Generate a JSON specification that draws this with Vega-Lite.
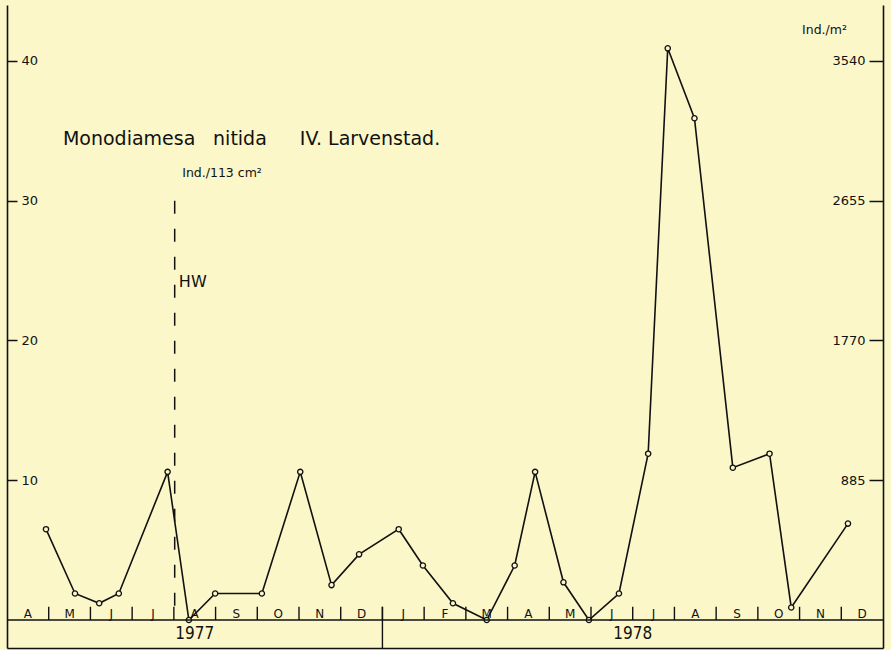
{
  "$schema": "https://vega.github.io/schema/vega-lite/v6.json",
  "width": 876,
  "height": 643,
  "autosize": {"type": "none"},
  "padding": {"left": 7, "top": 5, "right": 8, "bottom": 2},
  "background": "#fbf7c9",
  "config": {
    "view": {"stroke": null},
    "axisX": {"ticks": false, "labels": false, "grid": false, "domainColor": "#111111", "domainWidth": 1.6}
  },
  "datasets": {
    "counts": [
      {"month": 0.935, "ind": 6.5},
      {"month": 1.63, "ind": 1.9},
      {"month": 2.21, "ind": 1.2},
      {"month": 2.68, "ind": 1.9},
      {"month": 3.85, "ind": 10.6},
      {"month": 4.36, "ind": 0},
      {"month": 4.99, "ind": 1.9},
      {"month": 6.11, "ind": 1.9},
      {"month": 7.03, "ind": 10.6},
      {"month": 7.78, "ind": 2.5},
      {"month": 8.44, "ind": 4.7},
      {"month": 9.39, "ind": 6.5},
      {"month": 9.97, "ind": 3.9},
      {"month": 10.69, "ind": 1.2},
      {"month": 11.5, "ind": 0},
      {"month": 12.17, "ind": 3.9},
      {"month": 12.66, "ind": 10.6},
      {"month": 13.34, "ind": 2.7},
      {"month": 13.95, "ind": 0},
      {"month": 14.67, "ind": 1.9},
      {"month": 15.37, "ind": 11.9},
      {"month": 15.84, "ind": 40.9},
      {"month": 16.48, "ind": 35.9},
      {"month": 17.4, "ind": 10.9},
      {"month": 18.28, "ind": 11.9},
      {"month": 18.8, "ind": 0.9},
      {"month": 20.16, "ind": 6.9}
    ],
    "months": [
      {"m": "A", "start": 0}, {"m": "M", "start": 1}, {"m": "J", "start": 2}, {"m": "J", "start": 3},
      {"m": "A", "start": 4}, {"m": "S", "start": 5}, {"m": "O", "start": 6}, {"m": "N", "start": 7},
      {"m": "D", "start": 8}, {"m": "J", "start": 9}, {"m": "F", "start": 10}, {"m": "M", "start": 11},
      {"m": "A", "start": 12}, {"m": "M", "start": 13}, {"m": "J", "start": 14}, {"m": "J", "start": 15},
      {"m": "A", "start": 16}, {"m": "S", "start": 17}, {"m": "O", "start": 18}, {"m": "N", "start": 19},
      {"m": "D", "start": 20}
    ],
    "years": [
      {"year": "1977", "mid": 4.5},
      {"year": "1978", "mid": 15}
    ]
  },
  "layer": [
    {
      "data": {"name": "counts"},
      "mark": {"type": "line", "color": "#111111", "strokeWidth": 1.6},
      "encoding": {
        "x": {"field": "month", "type": "quantitative", "title": null, "scale": {"domain": [0, 21], "nice": false, "zero": false}},
        "y": {
          "field": "ind", "type": "quantitative",
          "scale": {"domain": [-2, 44], "nice": false, "zero": false},
          "axis": {
            "orient": "left", "title": null, "grid": false, "values": [10, 20, 30, 40],
            "domainColor": "#111111", "domainWidth": 1.6,
            "tickColor": "#111111", "tickWidth": 1.5, "tickSize": -10,
            "labelPadding": -4, "labelAlign": "left", "labelBaseline": "middle",
            "labelFont": "DejaVu Sans", "labelFontSize": 13, "labelColor": "#111111"
          }
        }
      }
    },
    {
      "data": {"name": "counts"},
      "mark": {"type": "point", "filled": true, "fill": "#fbf7c9", "stroke": "#111111", "strokeWidth": 1.3, "size": 28, "opacity": 1},
      "encoding": {
        "x": {"field": "month", "type": "quantitative", "title": null, "scale": {"domain": [0, 21], "nice": false, "zero": false}},
        "y": {
          "field": "ind", "type": "quantitative",
          "scale": {"domain": [-2, 44], "nice": false, "zero": false},
          "axis": {
            "orient": "right", "title": null, "grid": false, "values": [10, 20, 30, 40],
            "labelExpr": "datum.value * 88.5",
            "domainColor": "#111111", "domainWidth": 1.6,
            "tickColor": "#111111", "tickWidth": 1.5, "tickSize": -14,
            "labelPadding": -4, "labelAlign": "right", "labelBaseline": "middle",
            "labelFont": "DejaVu Sans", "labelFontSize": 13, "labelColor": "#111111"
          }
        }
      }
    },
    {
      "data": {"values": [{"from": 0, "to": 21, "level": 0}]},
      "mark": {"type": "rule", "color": "#111111", "strokeWidth": 1.5},
      "encoding": {
        "x": {"field": "from", "type": "quantitative", "title": null},
        "x2": {"field": "to"},
        "y": {"field": "level", "type": "quantitative", "axis": null, "scale": {"domain": [-2, 44], "nice": false, "zero": false}}
      }
    },
    {
      "data": {"name": "months"},
      "transform": [{"filter": "datum.start > 0"}],
      "mark": {"type": "rule", "color": "#111111", "strokeWidth": 1.4},
      "encoding": {
        "x": {"field": "start", "type": "quantitative", "title": null},
        "y": {"datum": 0, "type": "quantitative", "axis": null, "scale": {"domain": [-2, 44], "nice": false, "zero": false}},
        "y2": {"datum": 0.95}
      }
    },
    {
      "data": {"values": [{"boundary": 9}]},
      "mark": {"type": "rule", "color": "#111111", "strokeWidth": 1.4},
      "encoding": {
        "x": {"field": "boundary", "type": "quantitative", "title": null},
        "y": {"datum": -2, "type": "quantitative", "axis": null, "scale": {"domain": [-2, 44], "nice": false, "zero": false}},
        "y2": {"datum": 0.95}
      }
    },
    {
      "data": {"values": [{"hw": 4.02, "top": 30, "bottom": 0}]},
      "mark": {"type": "rule", "color": "#111111", "strokeWidth": 1.5, "strokeDash": [13, 15]},
      "encoding": {
        "x": {"field": "hw", "type": "quantitative", "title": null},
        "y": {"field": "top", "type": "quantitative", "axis": null, "scale": {"domain": [-2, 44], "nice": false, "zero": false}},
        "y2": {"field": "bottom"}
      }
    },
    {
      "data": {"name": "months"},
      "mark": {"type": "text", "font": "DejaVu Sans", "fontSize": 12, "color": "#111111", "align": "center", "baseline": "alphabetic", "dx": 20.85},
      "encoding": {
        "x": {"field": "start", "type": "quantitative", "title": null},
        "y": {"datum": 0.17, "type": "quantitative", "axis": null, "scale": {"domain": [-2, 44], "nice": false, "zero": false}},
        "text": {"field": "m"}
      }
    },
    {
      "data": {"name": "years"},
      "mark": {"type": "text", "font": "DejaVu Sans Condensed", "fontSize": 17, "color": "#111111", "align": "center", "baseline": "alphabetic"},
      "encoding": {
        "x": {"field": "mid", "type": "quantitative", "title": null},
        "y": {"datum": -1.33, "type": "quantitative", "axis": null, "scale": {"domain": [-2, 44], "nice": false, "zero": false}},
        "text": {"field": "year"}
      }
    },
    {
      "data": {"values": [
        {"label": "Monodiamesa", "x": 1.34},
        {"label": "nitida", "x": 4.94},
        {"label": "IV. Larvenstad.", "x": 7.02}
      ]},
      "mark": {"type": "text", "font": "DejaVu Sans", "fontSize": 19, "color": "#111111", "align": "left", "baseline": "alphabetic"},
      "encoding": {
        "x": {"field": "x", "type": "quantitative", "title": null},
        "y": {"datum": 34.0, "type": "quantitative", "axis": null, "scale": {"domain": [-2, 44], "nice": false, "zero": false}},
        "text": {"field": "label"}
      }
    },
    {
      "data": {"values": [
        {"label": "Ind./113 cm²", "x": 4.2, "y": 31.7},
        {"label": "Ind./m²", "x": 19.06, "y": 41.9}
      ]},
      "mark": {"type": "text", "font": "DejaVu Sans", "fontSize": 12.5, "color": "#111111", "align": "left", "baseline": "alphabetic"},
      "encoding": {
        "x": {"field": "x", "type": "quantitative", "title": null},
        "y": {"field": "y", "type": "quantitative", "axis": null, "scale": {"domain": [-2, 44], "nice": false, "zero": false}},
        "text": {"field": "label"}
      }
    },
    {
      "data": {"values": [{"label": "HW", "x": 4.12, "y": 23.8}]},
      "mark": {"type": "text", "font": "DejaVu Sans", "fontSize": 16, "color": "#111111", "align": "left", "baseline": "alphabetic"},
      "encoding": {
        "x": {"field": "x", "type": "quantitative", "title": null},
        "y": {"field": "y", "type": "quantitative", "axis": null, "scale": {"domain": [-2, 44], "nice": false, "zero": false}},
        "text": {"field": "label"}
      }
    }
  ],
  "resolve": {"axis": {"y": "independent"}}
}
